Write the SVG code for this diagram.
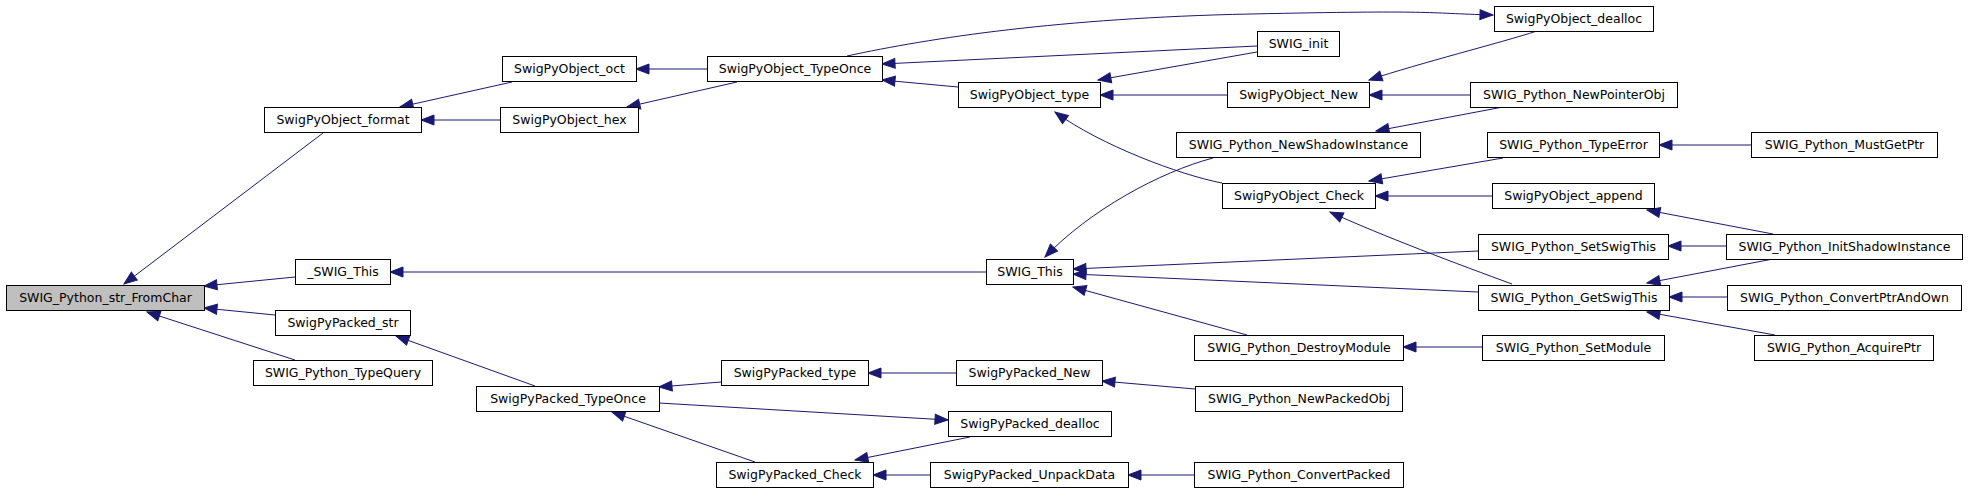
<svg xmlns="http://www.w3.org/2000/svg" width="1968" height="493" viewBox="0 0 1968 493">
<style>
.n rect{fill:#ffffff;stroke:#000000;stroke-width:1}
.n.root rect{fill:#bfbfbf}
.n text{font-family:"DejaVu Sans","Liberation Sans",sans-serif;font-size:12.5px;fill:#000000;text-anchor:middle}
.e path{fill:none;stroke:#191970;stroke-width:1;marker-end:url(#ah)}
</style>
<defs>
<marker id="ah" markerUnits="userSpaceOnUse" markerWidth="14" markerHeight="12" refX="13" refY="5" orient="auto" overflow="visible">
<path d="M0,0 L13,5 L0,10 Z" fill="#191970" stroke="#191970" stroke-width="1"/>
</marker>
</defs>
<rect width="1968" height="493" fill="#ffffff"/>
<g id="edges" class="e">
<path d="M323,133 L124,284"/>
<path d="M295,277 L204,286"/>
<path d="M275,315 L204,308"/>
<path d="M295,360 L147,312"/>
<path d="M512,82 L400,107"/>
<path d="M500,120 L421,120"/>
<path d="M707,69 L636,69"/>
<path d="M737,82 L627,107"/>
<path d="M847,56 C930,38 1060,18 1250,14 S1420,13 1493,15"/>
<path d="M1257,46 L882,64"/>
<path d="M958,87 L882,80"/>
<path d="M1537,31 C1500,43 1420,63 1369,80"/>
<path d="M1257,52 L1098,80"/>
<path d="M1227,95 L1100,95"/>
<path d="M1470,95 L1369,95"/>
<path d="M1503,107 L1376,131"/>
<path d="M1222,183 C1180,175 1100,145 1055,112"/>
<path d="M1213,158 C1160,172 1090,210 1045,257"/>
<path d="M1503,158 L1369,181"/>
<path d="M1492,196 L1375,196"/>
<path d="M1512,284 C1460,265 1380,235 1330,212"/>
<path d="M1751,145 L1659,145"/>
<path d="M1773,234 L1647,210"/>
<path d="M1726,246 L1668,246"/>
<path d="M1773,259 L1647,283"/>
<path d="M1727,297 L1669,297"/>
<path d="M1775,335 L1647,312"/>
<path d="M986,272 L390,272"/>
<path d="M1478,251 L1073,269"/>
<path d="M1478,292 L1073,274"/>
<path d="M1247,335 L1073,287"/>
<path d="M1482,347 L1403,347"/>
<path d="M535,386 L396,336"/>
<path d="M721,382 L659,387"/>
<path d="M659,403 L948,420"/>
<path d="M755,462 L612,412"/>
<path d="M970,437 L855,460"/>
<path d="M930,475 L873,475"/>
<path d="M1194,475 L1128,475"/>
<path d="M956,373 L868,373"/>
<path d="M1195,389 L1102,381"/>
</g>
<g id="n0" class="n root"><rect x="6.5" y="285.5" width="198" height="25"/><text x="105.5" y="302.3">SWIG_Python_str_FromChar</text></g>
<g id="n1" class="n"><rect x="264.5" y="107.5" width="157" height="25"/><text x="343" y="124.3">SwigPyObject_format</text></g>
<g id="n2" class="n"><rect x="295.5" y="259.5" width="95" height="25"/><text x="343" y="276.3">_SWIG_This</text></g>
<g id="n3" class="n"><rect x="275.5" y="310.5" width="135" height="25"/><text x="343" y="327.3">SwigPyPacked_str</text></g>
<g id="n4" class="n"><rect x="253.5" y="360.5" width="179" height="25"/><text x="343" y="377.3">SWIG_Python_TypeQuery</text></g>
<g id="n5" class="n"><rect x="502.5" y="56.5" width="134" height="25"/><text x="569.5" y="73.3">SwigPyObject_oct</text></g>
<g id="n6" class="n"><rect x="500.5" y="107.5" width="138" height="25"/><text x="569.5" y="124.3">SwigPyObject_hex</text></g>
<g id="n7" class="n"><rect x="707.5" y="56.5" width="175" height="25"/><text x="795" y="73.3">SwigPyObject_TypeOnce</text></g>
<g id="n8" class="n"><rect x="476.5" y="386.5" width="183" height="25"/><text x="568" y="403.3">SwigPyPacked_TypeOnce</text></g>
<g id="n9" class="n"><rect x="721.5" y="360.5" width="147" height="25"/><text x="795" y="377.3">SwigPyPacked_type</text></g>
<g id="n10" class="n"><rect x="716.5" y="462.5" width="157" height="25"/><text x="795" y="479.3">SwigPyPacked_Check</text></g>
<g id="n11" class="n"><rect x="958.5" y="82.5" width="142" height="25"/><text x="1029.5" y="99.3">SwigPyObject_type</text></g>
<g id="n12" class="n"><rect x="986.5" y="259.5" width="87" height="25"/><text x="1030" y="276.3">SWIG_This</text></g>
<g id="n13" class="n"><rect x="956.5" y="360.5" width="146" height="25"/><text x="1029.5" y="377.3">SwigPyPacked_New</text></g>
<g id="n14" class="n"><rect x="948.5" y="411.5" width="163" height="25"/><text x="1030" y="428.3">SwigPyPacked_dealloc</text></g>
<g id="n15" class="n"><rect x="930.5" y="462.5" width="198" height="25"/><text x="1029.5" y="479.3">SwigPyPacked_UnpackData</text></g>
<g id="n16" class="n"><rect x="1257.5" y="31.5" width="82" height="25"/><text x="1298.5" y="48.3">SWIG_init</text></g>
<g id="n17" class="n"><rect x="1227.5" y="82.5" width="142" height="25"/><text x="1298.5" y="99.3">SwigPyObject_New</text></g>
<g id="n18" class="n"><rect x="1176.5" y="132.5" width="244" height="25"/><text x="1298.5" y="149.3">SWIG_Python_NewShadowInstance</text></g>
<g id="n19" class="n"><rect x="1222.5" y="183.5" width="153" height="25"/><text x="1299" y="200.3">SwigPyObject_Check</text></g>
<g id="n20" class="n"><rect x="1194.5" y="335.5" width="209" height="25"/><text x="1299" y="352.3">SWIG_Python_DestroyModule</text></g>
<g id="n21" class="n"><rect x="1195.5" y="386.5" width="207" height="25"/><text x="1299" y="403.3">SWIG_Python_NewPackedObj</text></g>
<g id="n22" class="n"><rect x="1194.5" y="462.5" width="209" height="25"/><text x="1299" y="479.3">SWIG_Python_ConvertPacked</text></g>
<g id="n23" class="n"><rect x="1494.5" y="6.5" width="159" height="25"/><text x="1574" y="23.3">SwigPyObject_dealloc</text></g>
<g id="n24" class="n"><rect x="1470.5" y="82.5" width="207" height="25"/><text x="1574" y="99.3">SWIG_Python_NewPointerObj</text></g>
<g id="n25" class="n"><rect x="1487.5" y="132.5" width="172" height="25"/><text x="1573.5" y="149.3">SWIG_Python_TypeError</text></g>
<g id="n26" class="n"><rect x="1492.5" y="183.5" width="162" height="25"/><text x="1573.5" y="200.3">SwigPyObject_append</text></g>
<g id="n27" class="n"><rect x="1478.5" y="234.5" width="190" height="25"/><text x="1573.5" y="251.3">SWIG_Python_SetSwigThis</text></g>
<g id="n28" class="n"><rect x="1478.5" y="285.5" width="191" height="25"/><text x="1574" y="302.3">SWIG_Python_GetSwigThis</text></g>
<g id="n29" class="n"><rect x="1482.5" y="335.5" width="182" height="25"/><text x="1573.5" y="352.3">SWIG_Python_SetModule</text></g>
<g id="n30" class="n"><rect x="1751.5" y="132.5" width="186" height="25"/><text x="1844.5" y="149.3">SWIG_Python_MustGetPtr</text></g>
<g id="n31" class="n"><rect x="1726.5" y="234.5" width="236" height="25"/><text x="1844.5" y="251.3">SWIG_Python_InitShadowInstance</text></g>
<g id="n32" class="n"><rect x="1727.5" y="285.5" width="234" height="25"/><text x="1844.5" y="302.3">SWIG_Python_ConvertPtrAndOwn</text></g>
<g id="n33" class="n"><rect x="1754.5" y="335.5" width="179" height="25"/><text x="1844" y="352.3">SWIG_Python_AcquirePtr</text></g>
</svg>
